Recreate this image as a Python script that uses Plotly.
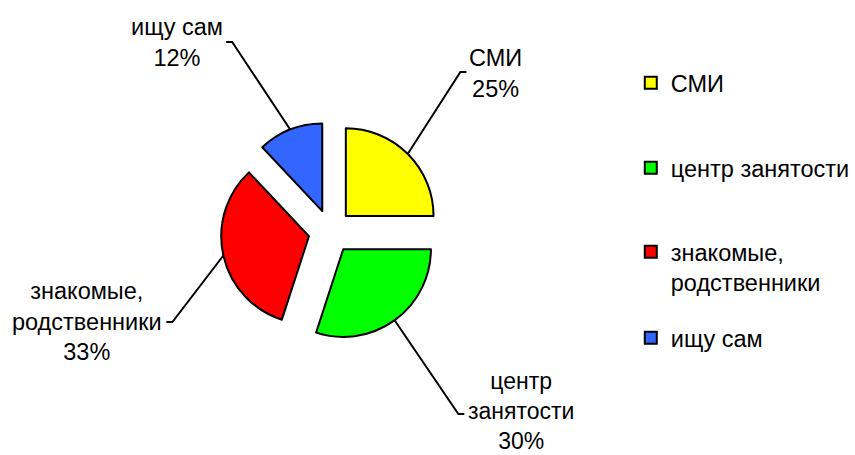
import math
import plotly.graph_objects as go

# ---- data ----
categories = ["СМИ", "центр занятости", "знакомые, родственники", "ищу сам"]
legend_names = ["СМИ", "центр занятости", "знакомые,<br>родственники", "ищу сам"]
label_texts = ["СМИ", "центр<br>занятости", "знакомые,<br>родственники", "ищу сам"]
values = [25, 30, 33, 12]
colors = ["#FFFF00", "#00FF00", "#FF0000", "#3366FF"]

# ---- layout / geometry (pixels) ----
W, H = 855, 455
PIE_CX, PIE_CY = 331.5, 231.5   # pie centre
PIE_R = 88                      # slice radius
PULL = 0.25                     # explosion (fraction of radius)
FONT = "Liberation Sans, Arial, sans-serif"
FS = 23.5

half = PIE_R * (1 + PULL)
dom_x = [(PIE_CX - half) / W, (PIE_CX + half) / W]
dom_y = [1 - (PIE_CY + half) / H, 1 - (PIE_CY - half) / H]

fig = go.Figure()
fig.add_trace(go.Pie(
    labels=categories, values=values, sort=False, direction="clockwise",
    rotation=0, pull=[PULL] * len(values),
    marker=dict(colors=colors, line=dict(color="black", width=2)),
    textinfo="none", hoverinfo="none", showlegend=False,
    domain=dict(x=dom_x, y=dom_y),
))

# label placement: elbow point of leader (px), side of text, text centre (px)
label_layout = [
    dict(elbow=(462, 72), side=1, text=(497, 73)),
    dict(elbow=(460, 414), side=1, text=(523, 411)),
    dict(elbow=(173, 322), side=-1, text=(87, 321)),
    dict(elbow=(233, 42), side=-1, text=(178, 42)),
]

def px2paper(x, y):
    return x / W, 1 - y / H

total = sum(values)
cum = 0
for i, v in enumerate(values):
    mid = (cum + v / 2) / total * 2 * math.pi
    cum += v
    dx, dy = math.sin(mid), -math.cos(mid)
    scx = PIE_CX + PULL * PIE_R * dx
    scy = PIE_CY + PULL * PIE_R * dy
    sx, sy = scx + PIE_R * dx, scy + PIE_R * dy
    lay = label_layout[i]
    ex, ey = lay["elbow"]
    tx = ex + lay["side"] * 6
    p0 = px2paper(sx, sy); p1 = px2paper(ex, ey); p2 = px2paper(tx, ey)
    fig.add_shape(type="path", xref="paper", yref="paper",
                  path=f"M {p0[0]},{p0[1]} L {p1[0]},{p1[1]} L {p2[0]},{p2[1]}",
                  line=dict(color="black", width=2))
    pct = round(v / total * 100)
    cx, cy = px2paper(*lay["text"])
    fig.add_annotation(x=cx, y=cy, xref="paper", yref="paper",
                       text=f"{label_texts[i]}<br>{pct}%", showarrow=False,
                       xanchor="center", yanchor="middle", align="center",
                       font=dict(family=FONT, size=FS if i != 1 else 23, color="black"))

# legend entries (one legend each so their vertical spacing can match)
legend_pos = [83, 168, 252, 338]   # first-line centre (px)
LEG_X = 633
for i, name in enumerate(legend_names):
    key = "legend" if i == 0 else f"legend{i + 1}"
    fig.add_trace(go.Scatter(
        x=[None], y=[None], mode="markers", name=name, legend=key,
        marker=dict(symbol="square", size=12, color=colors[i],
                    line=dict(color="black", width=2)),
        hoverinfo="none",
    ))
    lx, ly = px2paper(LEG_X, legend_pos[i] - 22)
    fig.update_layout(**{key: dict(
        x=lx, y=ly, xanchor="left", yanchor="top", valign="top",
        bgcolor="rgba(0,0,0,0)", borderwidth=0,
        font=dict(family=FONT, size=FS, color="black"),
        itemclick=False, itemdoubleclick=False,
    )})

fig.update_layout(
    width=W, height=H, margin=dict(l=0, r=0, t=0, b=0),
    paper_bgcolor="white", plot_bgcolor="white",
    xaxis=dict(visible=False), yaxis=dict(visible=False),
    showlegend=True,
)

fig.write_html("out.html", config={"displayModeBar": False},
               post_script="document.body.style.margin='0';document.body.style.overflow='hidden';")
